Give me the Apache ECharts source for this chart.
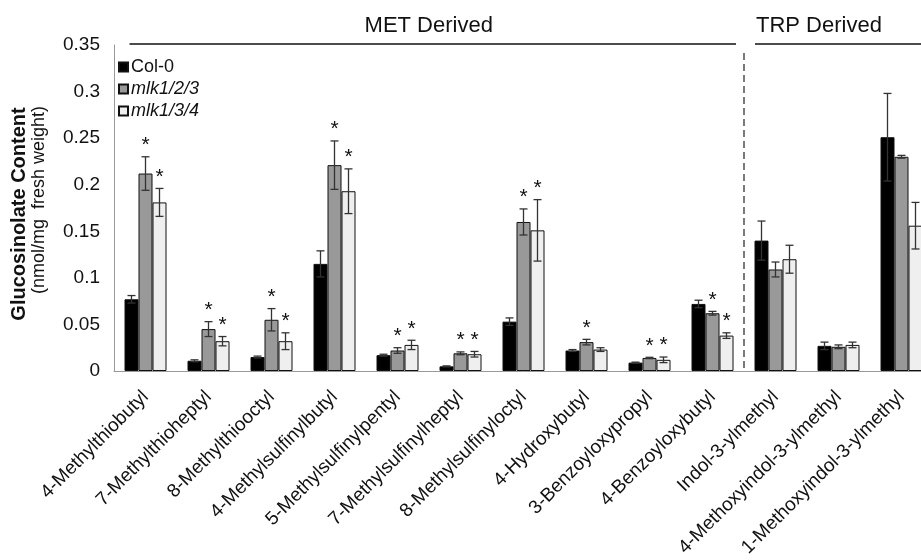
<!DOCTYPE html>
<html>
<head>
<meta charset="utf-8">
<script src="https://cdn.jsdelivr.net/npm/echarts@6/dist/echarts.min.js"></script>
<style>html,body{margin:0;padding:0;background:#fff;overflow:hidden;width:921px;height:560px}#c{width:940px;height:560px}</style>
</head>
<body>
<div id="c"></div>
<script>
var categories = ['4-Methylthiobutyl','7-Methylthioheptyl','8-Methylthiooctyl','4-Methylsulfinylbutyl','5-Methylsulfinylpentyl','7-Methylsulfinylheptyl','8-Methylsulfinyloctyl','4-Hydroxybutyl','3-Benzoyloxypropyl','4-Benzoyloxybutyl','Indol-3-ylmethyl','4-Methoxyindol-3-ylmethyl','1-Methoxyindol-3-ylmethyl'];
var seriesNames = ['Col-0','mlk1/2/3','mlk1/3/4'];
var col0 = [0.077,0.011,0.015,0.115,0.017,0.005,0.053,0.022,0.009,0.072,0.140,0.027,0.251];
var mlk123 = [0.212,0.045,0.055,0.221,0.022,0.019,0.160,0.031,0.014,0.062,0.109,0.026,0.230];
var mlk134 = [0.181,0.032,0.032,0.193,0.028,0.018,0.151,0.023,0.012,0.038,0.120,0.028,0.156];
var col0Err = [0.004,0.001,0.001,0.014,0.001,0.0005,0.004,0.001,0.0005,0.004,0.021,0.004,0.047];
var mlk123Err = [0.018,0.008,0.012,0.026,0.003,0.0015,0.014,0.003,0.0007,0.002,0.008,0.002,0.0015];
var mlk134Err = [0.015,0.005,0.009,0.024,0.005,0.003,0.033,0.002,0.003,0.003,0.015,0.003,0.025];
var col0Star = [0,0,0,0,0,0,0,0,0,0,0,0,0];
var mlk123Star = [1,1,1,1,1,1,1,1,1,1,0,0,0];
var mlk134Star = [1,1,1,1,1,1,1,0,1,1,0,0,0];
var yTicks = [0,0.05,0.1,0.15,0.2,0.25,0.3,0.35];
var groupLabels = ['MET Derived','TRP Derived'];
var metCount = 10;

var values = [col0, mlk123, mlk134];
var errs = [col0Err, mlk123Err, mlk134Err];
var stars = [col0Star, mlk123Star, mlk134Star];
var fills = ['#000000','#999999','#efefef'];
var BW = 14;
var FONT = 'Arial, "Liberation Sans", sans-serif';

var chart = echarts.init(document.getElementById('c'), null, {renderer:'canvas'});

var series = [];
for (var s = 0; s < 3; s++) {
  series.push({
    name: seriesNames[s], type: 'bar', data: values[s], barWidth: BW, barGap: '0%',
    itemStyle: {color: fills[s], borderColor: '#111', borderWidth: 1},
    z: 2
  });
}
function makeErr(s) {
  return {
    type: 'custom', name: 'err' + s, z: 5, silent: true,
    data: values[s].map(function (v, i) { return [i, v, errs[s][i], stars[s][i]]; }),
    encode: {x: 0, y: 1},
    renderItem: function (params, api) {
      var i = api.value(0), v = api.value(1), e = api.value(2), st = api.value(3);
      var off = (s - 1) * BW;
      var top = api.coord([i, v + e]);
      var bot = api.coord([i, v - e]);
      var x = top[0] + off;
      var cap = 4;
      var children = [
        {type:'line', shape:{x1:x, y1:top[1], x2:x, y2:bot[1]}, style:{stroke:'#333', lineWidth:1.3}},
        {type:'line', shape:{x1:x-cap, y1:top[1], x2:x+cap, y2:top[1]}, style:{stroke:'#333', lineWidth:1.3}},
        {type:'line', shape:{x1:x-cap, y1:bot[1], x2:x+cap, y2:bot[1]}, style:{stroke:'#333', lineWidth:1.3}}
      ];
      if (st) {
        children.push({type:'text', style:{text:'*', x:x, y:top[1] - 1, align:'center', verticalAlign:'bottom', font:'21px ' + FONT, fill:'#111'}});
      }
      return {type:'group', children:children};
    }
  };
}
for (var s2 = 0; s2 < 3; s2++) series.push(makeErr(s2));

var option = {
  animation: false,
  backgroundColor: '#fff',
  textStyle: {fontFamily: FONT},
  grid: {left: 114, top: 45, width: 819, height: 326, containLabel: false},
  legend: {
    data: seriesNames, orient: 'vertical', left: 118, top: 58, itemGap: 4, padding: 0,
    icon: 'rect', itemWidth: 9, itemHeight: 9,
    formatter: function (n) { return n === 'Col-0' ? '{n|' + n + '}' : '{i|' + n + '}'; },
    textStyle: {fontSize: 18, color: '#111', fontFamily: FONT,
      rich: {n: {fontSize: 18, color: '#111', fontFamily: FONT, padding: [0,0,0,-2]},
             i: {fontStyle: 'italic', fontSize: 18, color: '#111', fontFamily: FONT, padding: [0,0,0,-2]}}}
  },
  xAxis: {
    type: 'category', data: categories,
    axisLine: {show: true, lineStyle: {color: '#999', width: 1}},
    axisTick: {show: false},
    axisLabel: {rotate: 45, fontSize: 19, color: '#111', margin: 23, interval: 0, fontFamily: FONT}
  },
  yAxis: {
    type: 'value', min: 0, max: 0.35, interval: 0.05,
    axisLine: {show: true, lineStyle: {color: '#999', width: 1}},
    axisTick: {show: false},
    splitLine: {show: false},
    axisLabel: {fontSize: 19, color: '#111', margin: 14, fontFamily: FONT,
      formatter: function (v) { var m = yTicks.filter(function(t){return Math.abs(t-v)<1e-9;}); return m.length ? String(m[0]) : ''; }}
  },
  series: series
};
chart.setOption(option);

var xa = function (i) { return chart.convertToPixel({xAxisIndex: 0}, i); };
var y0 = chart.convertToPixel({yAxisIndex: 0}, 0);
var yTop = chart.convertToPixel({yAxisIndex: 0}, 0.35);
var divX = (xa(metCount - 1) + xa(metCount)) / 2;
var firstX = xa(0);
chart.setOption({
  graphic: [
    {type:'line', shape:{x1:divX, y1:yTop + 8, x2:divX, y2:y0}, style:{stroke:'#222', lineWidth:1.2, lineDash:[7,4]}, z:10},
    {type:'line', shape:{x1:firstX - 16, y1:yTop - 1, x2:divX - 8, y2:yTop - 1}, style:{stroke:'#111', lineWidth:1.3}, z:10},
    {type:'line', shape:{x1:divX + 11, y1:yTop - 1, x2:980, y2:yTop - 1}, style:{stroke:'#111', lineWidth:1.3}, z:10},
    {type:'text', style:{text:groupLabels[0], x:(firstX - 16 + divX - 8) / 2 - 4, y:yTop - 8, align:'center', verticalAlign:'bottom', font:'22px ' + FONT, fill:'#111'}, z:10},
    {type:'text', style:{text:groupLabels[1], x:divX + 12, y:yTop - 8, align:'left', verticalAlign:'bottom', font:'22px ' + FONT, fill:'#111'}, z:10},
    {type:'text', rotation: Math.PI / 2, x: 19, y: (y0 + yTop) / 2 + 6, style:{text:'Glucosinolate Content', align:'center', verticalAlign:'middle', font:'bold 20px ' + FONT, fill:'#111'}, z:10},
    {type:'text', rotation: Math.PI / 2, x: 39, y: (y0 + yTop) / 2 - 8, style:{text:'(nmol/mg  fresh weight)', align:'center', verticalAlign:'middle', font:'18px ' + FONT, fill:'#111'}, z:10}
  ]
});
</script>
</body>
</html>
